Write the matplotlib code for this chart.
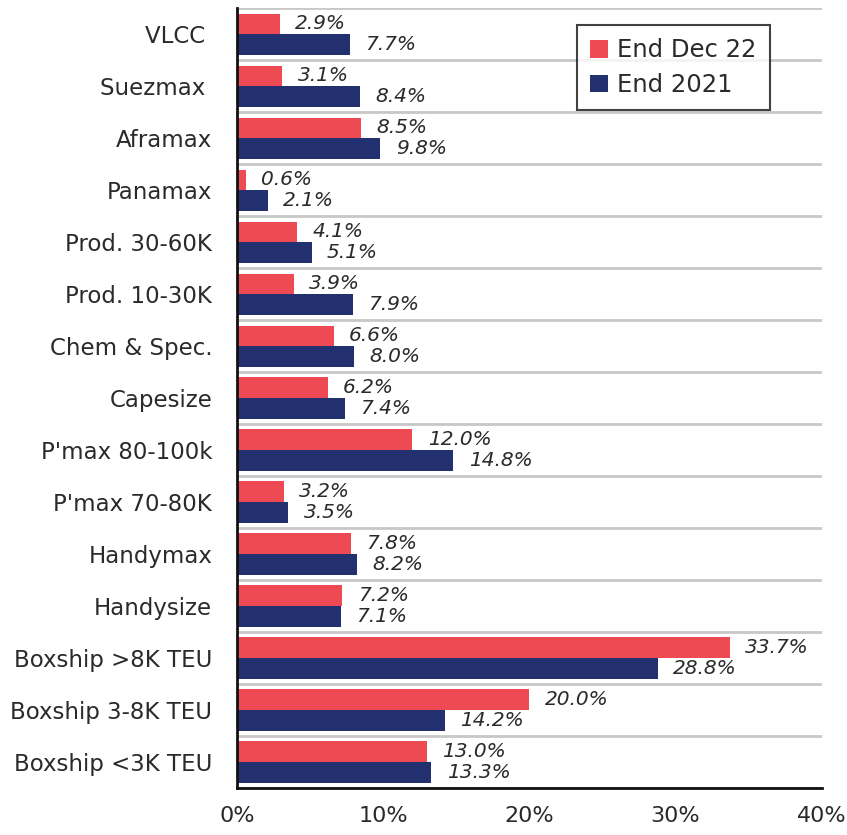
import matplotlib
matplotlib.use("Agg")
import matplotlib.pyplot as plt
import numpy as np

categories = ["VLCC ", "Suezmax ", "Aframax", "Panamax", "Prod. 30-60K", "Prod. 10-30K",
              "Chem & Spec.", "Capesize", "P'max 80-100k", "P'max 70-80K", "Handymax",
              "Handysize", "Boxship >8K TEU", "Boxship 3-8K TEU", "Boxship <3K TEU"]
end_dec22 = [2.9, 3.1, 8.5, 0.6, 4.1, 3.9, 6.6, 6.2, 12.0, 3.2, 7.8, 7.2, 33.7, 20.0, 13.0]
end_2021 = [7.7, 8.4, 9.8, 2.1, 5.1, 7.9, 8.0, 7.4, 14.8, 3.5, 8.2, 7.1, 28.8, 14.2, 13.3]
series_names = ["End Dec 22", "End 2021"]
xticks = [0, 10, 20, 30, 40]

RED = "#EE4A53"
NAVY = "#233070"
TXT = "#2a2a2a"

plt.rcParams['font.family'] = ['DejaVu Sans']

fig = plt.figure(figsize=(8.47, 8.35), dpi=100)
ax = fig.add_axes([0.280, 0.056, 0.690, 0.934])

y = np.arange(len(categories))
h = 0.4
b1 = ax.barh(y - h / 2, end_dec22, height=h, color=RED, label=series_names[0], zorder=3)
b2 = ax.barh(y + h / 2, end_2021, height=h, color=NAVY, label=series_names[1], zorder=3)

for bars, vals in ((b1, end_dec22), (b2, end_2021)):
    for rect, v in zip(bars, vals):
        ax.annotate(f"{v:.1f}%", xy=(rect.get_width(), rect.get_y() + rect.get_height() / 2),
                    xytext=(11, 0), textcoords="offset points", ha="left", va="center",
                    fontsize=14.5, style="italic", color=TXT, zorder=4)

ax.set_xlim(0, 40)
ax.set_ylim(len(categories) - 0.5, -0.5)
ax.set_yticks(y)
ax.set_yticklabels(categories, fontsize=16.5, color=TXT)
ax.set_yticks(np.arange(len(categories) + 1) - 0.5, minor=True)
ax.set_xticks(xticks)
ax.set_xticklabels([f"{t}%" for t in xticks], fontsize=16, color=TXT)
ax.tick_params(axis="y", which="both", length=0, pad=18)
ax.tick_params(axis="x", length=0, pad=13)
ax.grid(axis="y", which="minor", color="#c8c8c8", linewidth=2, zorder=0)
ax.grid(axis="y", which="major", visible=False)
ax.grid(axis="x", visible=False)

for s in ("top", "right"):
    ax.spines[s].set_visible(False)
for s in ("left", "bottom"):
    ax.spines[s].set_color("#111111")
    ax.spines[s].set_linewidth(2)
    ax.spines[s].set_zorder(5)

leg = ax.legend(loc="upper left", bbox_to_anchor=(0.581, 0.979), borderaxespad=0,
                fontsize=17.5, frameon=True, fancybox=False, handlelength=0.75,
                handleheight=0.75, handletextpad=0.35, borderpad=0.55, labelspacing=0.45)
leg.get_frame().set_edgecolor("#111111")
leg.get_frame().set_linewidth(1.5)
for t in leg.get_texts():
    t.set_color(TXT)
leg.set_zorder(6)

fig.savefig("out.png", dpi=100, facecolor="white")
